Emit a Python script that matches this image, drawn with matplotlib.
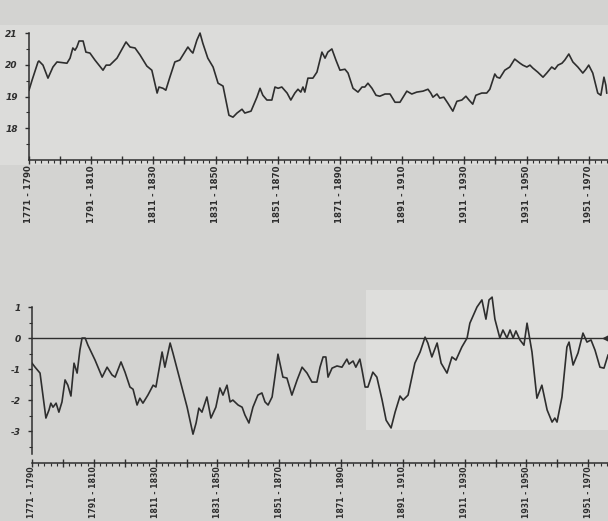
import matplotlib
matplotlib.use("Agg")
import matplotlib.pyplot as plt
import matplotlib.patches as mpatches
from matplotlib.ticker import MultipleLocator, FixedLocator, FixedFormatter

# ---------------- data ----------------
# Top chart: temperature running means (end-year of window, value)
top_years = [1790.0, 1791.0, 1792.9, 1793.2, 1794.5, 1796.1, 1797.7, 1799.0, 1802.2, 1803.2,
             1804.1, 1804.8, 1805.4, 1806.1, 1807.4, 1808.3, 1809.6, 1811.2, 1813.8, 1814.8,
             1816.0, 1818.3, 1821.2, 1822.5, 1824.1, 1825.7, 1827.9, 1829.5, 1831.2, 1831.8,
             1833.1, 1834.0, 1835.3, 1836.9, 1838.5, 1840.1, 1841.1, 1842.1, 1842.7, 1844.0,
             1845.0, 1845.9, 1847.5, 1849.2, 1850.8, 1852.4, 1854.3, 1855.6, 1856.9, 1858.5,
             1859.4, 1860.4, 1861.4, 1863.3, 1864.3, 1865.2, 1866.5, 1868.1, 1869.1, 1870.1,
             1871.3, 1873.0, 1874.2, 1875.5, 1876.5, 1877.4, 1878.1, 1878.7, 1879.7,
             1881.3, 1882.6, 1884.2, 1885.2, 1886.1, 1887.4, 1888.7, 1890.0, 1891.6, 1892.6,
             1894.2, 1895.8, 1897.1, 1898.0, 1899.0, 1900.3, 1901.6, 1902.8, 1904.5, 1906.1,
             1907.7, 1909.3, 1911.5, 1913.1, 1914.7, 1916.7, 1918.3, 1919.2, 1919.9, 1921.2,
             1922.1, 1923.4, 1924.7, 1926.3, 1927.6, 1929.2, 1930.5, 1931.5, 1932.7, 1933.7,
             1935.6, 1937.2, 1938.2, 1939.8, 1940.5, 1941.4, 1943.0, 1944.6, 1946.2, 1947.9,
             1948.8, 1950.1, 1951.1, 1952.0, 1953.6, 1955.3, 1956.5, 1958.1, 1959.1, 1960.1,
             1961.4, 1962.3, 1963.6, 1964.9, 1966.5, 1968.1, 1969.1, 1970.0, 1971.3, 1972.9,
             1973.9, 1974.9, 1975.5, 1975.8]
top_values = [19.20, 19.52, 20.09, 20.12, 19.99, 19.58, 19.93, 20.09, 20.05, 20.21,
              20.53, 20.46, 20.56, 20.75, 20.75, 20.40, 20.37, 20.15, 19.83, 19.99,
              19.99, 20.21, 20.72, 20.56, 20.53, 20.31, 19.96, 19.83, 19.11, 19.30,
              19.26, 19.20, 19.61, 20.09, 20.15, 20.40, 20.56, 20.43, 20.37, 20.78,
              21.00, 20.68, 20.21, 19.93, 19.42, 19.33, 18.41, 18.35, 18.48, 18.60,
              18.48, 18.51, 18.54, 18.98, 19.26, 19.04, 18.89, 18.89, 19.30, 19.26,
              19.30, 19.11, 18.89, 19.11, 19.23, 19.14, 19.30, 19.14, 19.58,
              19.58, 19.77, 20.40, 20.21, 20.40, 20.50, 20.15, 19.83, 19.86, 19.74,
              19.26, 19.14, 19.30, 19.30, 19.42, 19.26, 19.04, 19.01, 19.08, 19.08,
              18.82, 18.82, 19.17, 19.08, 19.14, 19.17, 19.23, 19.11, 18.98, 19.08,
              18.95, 18.98, 18.79, 18.54, 18.85, 18.89, 19.01, 18.89, 18.76, 19.04,
              19.11, 19.11, 19.23, 19.71, 19.61, 19.58, 19.83, 19.93, 20.18, 20.05,
              19.99, 19.93, 19.99, 19.90, 19.77, 19.61, 19.74, 19.93, 19.86, 19.99,
              20.05, 20.15, 20.34, 20.09, 19.93, 19.74, 19.86, 19.99, 19.74, 19.11,
              19.04, 19.61, 19.36, 19.11]

# Bottom chart: anomaly running means
bot_years = [1790.0, 1791.0, 1792.6, 1793.6, 1794.5, 1795.5, 1796.1, 1796.8, 1797.8, 1798.7,
             1799.7, 1800.7, 1801.6, 1802.6, 1803.6, 1804.6, 1805.5, 1806.2, 1807.2, 1808.1,
             1810.4, 1812.7, 1814.3, 1815.9, 1816.9, 1818.8, 1820.1, 1821.7, 1822.7, 1824.0,
             1824.9, 1825.9, 1827.5, 1829.2, 1830.1, 1832.1, 1833.0, 1834.7, 1835.6, 1837.9,
             1840.2, 1842.1, 1843.1, 1844.0, 1845.0, 1846.6, 1847.9, 1849.5, 1850.8, 1851.8,
             1853.1, 1854.1, 1855.0, 1856.7, 1858.0, 1858.9, 1860.2, 1861.5, 1863.1, 1864.4,
             1865.4, 1866.4, 1867.7, 1868.6, 1869.6, 1871.2, 1872.5, 1874.1, 1875.8, 1877.4,
             1879.0, 1880.6, 1882.2, 1883.2, 1884.2, 1885.1, 1885.8, 1887.1, 1888.7, 1890.3,
             1891.9, 1892.6, 1893.9, 1894.8, 1896.1, 1896.8, 1897.8, 1898.7, 1900.3, 1901.6,
             1903.3, 1904.6, 1906.2, 1907.5, 1909.1, 1910.1, 1911.7, 1913.9, 1915.6, 1917.2,
             1918.1, 1919.4, 1921.1, 1922.4, 1924.3, 1925.9, 1927.2, 1929.1, 1930.8, 1931.7,
             1934.0, 1935.6, 1936.9, 1937.9, 1938.9, 1939.8, 1941.4, 1942.4, 1943.7, 1944.7,
             1945.7, 1946.6, 1947.9, 1949.2, 1950.2, 1951.8, 1953.4, 1955.0, 1956.7, 1958.3,
             1959.2, 1959.9, 1961.5, 1963.1, 1963.8, 1965.1, 1966.7, 1968.3, 1969.6, 1970.9,
             1972.2, 1973.8, 1975.1, 1976.4]
bot_values = [-0.81, -0.94, -1.13, -1.90, -2.58, -2.32, -2.10, -2.23, -2.10, -2.39,
              -2.06, -1.35, -1.52, -1.87, -0.81, -1.13, -0.39, 0.00, 0.00, -0.23,
              -0.71, -1.26, -0.94, -1.19, -1.26, -0.77, -1.10, -1.58, -1.65, -2.16,
              -1.94, -2.10, -1.84, -1.52, -1.58, -0.45, -0.94, -0.16, -0.48, -1.35,
              -2.23, -3.10, -2.74, -2.26, -2.39, -1.90, -2.58, -2.23, -1.61, -1.84,
              -1.52, -2.06, -2.00, -2.16, -2.23, -2.48, -2.74, -2.23, -1.84, -1.77,
              -2.06, -2.16, -1.90, -1.26, -0.52, -1.26, -1.29, -1.84, -1.35, -0.94,
              -1.13, -1.42, -1.42, -0.94, -0.61, -0.61, -1.26, -0.97, -0.90, -0.94,
              -0.68, -0.84, -0.74, -0.94, -0.68, -1.03, -1.58, -1.58, -1.10, -1.26,
              -2.00, -2.65, -2.90, -2.39, -1.87, -2.00, -1.84, -0.81, -0.45, 0.03,
              -0.16, -0.61, -0.16, -0.81, -1.13, -0.61, -0.71, -0.29, 0.00, 0.48,
              1.00, 1.23, 0.61, 1.23, 1.32, 0.61, 0.00, 0.26, 0.00, 0.26,
              0.00, 0.23, -0.06, -0.23, 0.48, -0.45, -1.94, -1.52, -2.32, -2.71,
              -2.58, -2.71, -1.90, -0.29, -0.13, -0.87, -0.48, 0.16, -0.13, -0.06,
              -0.39, -0.94, -0.97, -0.55]

label_years = [1790, 1810, 1830, 1850, 1870, 1890, 1910, 1930, 1950, 1970]
period_labels = ["1771 - 1790", "1791 - 1810", "1811 - 1830", "1831 - 1850", "1851 - 1870",
                 "1871 - 1890", "1891 - 1910", "1911 - 1930", "1931 - 1950", "1951 - 1970"]
top_yticks = [18, 19, 20, 21]
bot_yticks = [-3, -2, -1, 0, 1]
bot_ytick_labels = ["-3", "-2", "-1", "0", "1"]

# ---------------- figure ----------------
W, H = 608, 521
fig = plt.figure(figsize=(W / 100, H / 100), dpi=100, facecolor="#d3d3d1")

ink = "#2e2e2e"

# lighter paper patches (scan look), kept behind the axes
fig.patches.append(mpatches.Rectangle((0, 1 - 165 / H), 1, 140 / H, transform=fig.transFigure,
                                      facecolor="#dcdcda", edgecolor="none", zorder=-10))
fig.patches.append(mpatches.Rectangle((366 / W, 1 - 430 / H), (W - 366) / W, 140 / H,
                                      transform=fig.transFigure,
                                      facecolor="#dededc", edgecolor="none", zorder=-10))


def style_axes(ax):
    ax.set_facecolor("none")
    ax.set_zorder(5)
    for s in ("top", "right"):
        ax.spines[s].set_visible(False)
    for s in ("left", "bottom"):
        ax.spines[s].set_color(ink)
        ax.spines[s].set_linewidth(1.1)
    ax.xaxis.set_major_locator(MultipleLocator(10))
    ax.xaxis.set_minor_locator(MultipleLocator(2))
    ax.xaxis.set_major_formatter(plt.NullFormatter())
    ax.tick_params(axis="x", which="major", direction="inout", length=6, width=1, color=ink)
    ax.tick_params(axis="x", which="minor", direction="out", length=2, width=0.8, color=ink)
    ax.tick_params(axis="y", which="major", direction="out", length=3, width=1, color=ink,
                   labelsize=6.5, labelcolor=ink, pad=5)
    ax.tick_params(axis="y", which="minor", direction="out", length=2, width=0.8, color=ink)
    for lab in ax.get_yticklabels():
        lab.set_fontweight("bold")
        lab.set_fontstyle("italic")


def add_period_labels(ax, y, size):
    for yr, lab in zip(label_years, period_labels):
        ax.text(yr, y, lab, transform=ax.get_xaxis_transform(), rotation=90,
                ha="center", va="top", fontsize=size, fontweight="bold", color=ink)


# ---- top chart ----
ax1 = fig.add_axes([29 / W, 1 - 160 / H, (W - 29) / W, 132 / H])
ax1.plot(top_years, top_values, color=ink, lw=1.2)
ax1.set_xlim(1790, 1976.2)
ax1.set_ylim(17.0, 21.16)
ax1.set_yticks(top_yticks)
ax1.yaxis.set_minor_locator(FixedLocator([17.5, 18.5, 19.5, 20.5]))
ax1.spines["left"].set_bounds(17.0, 21.0)
style_axes(ax1)
add_period_labels(ax1, -0.04, 6.2)

# ---- bottom chart ----
ax2 = fig.add_axes([32 / W, 1 - 463 / H, (W - 32) / W, 173 / H])
ax2.axhline(0, color=ink, lw=1.0)
ax2.plot(bot_years, bot_values, color=ink, lw=1.2)
ax2.plot([1975.6], [0], marker="<", color=ink, ms=5, clip_on=False)
ax2.set_xlim(1790, 1976.4)
ax2.set_ylim(-4.03, 1.55)
ax2.yaxis.set_major_locator(FixedLocator(bot_yticks))
ax2.yaxis.set_major_formatter(FixedFormatter(bot_ytick_labels))
ax2.yaxis.set_minor_locator(FixedLocator([-3.5, -2.5, -1.5, -0.5, 0.5]))
ax2.spines["left"].set_bounds(-3.75, 1.0)
style_axes(ax2)
add_period_labels(ax2, -0.02, 5.6)

fig.savefig("out.png", dpi=100, facecolor=fig.get_facecolor())
